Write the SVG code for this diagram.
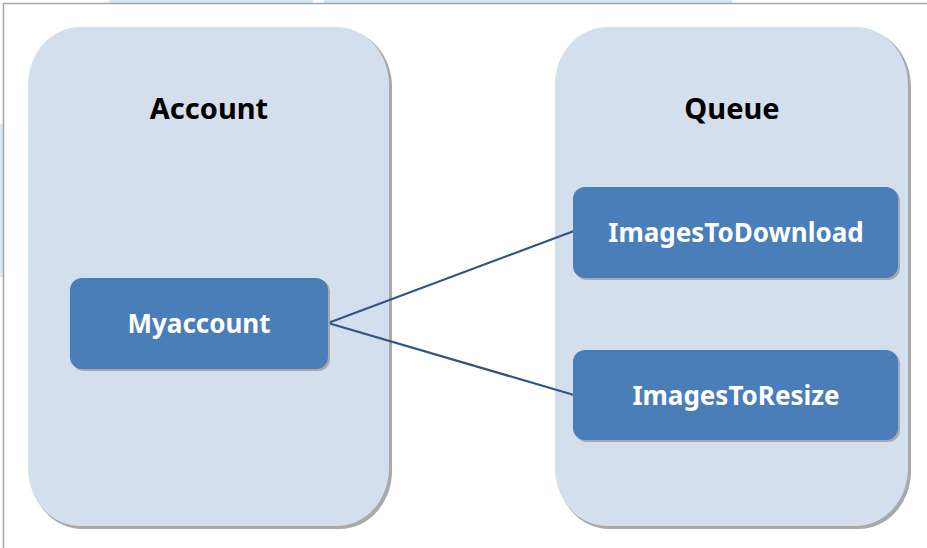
<svg xmlns="http://www.w3.org/2000/svg" width="927" height="548" viewBox="0 0 927 548">
  <style>
    .frame { stroke: #a6a6a6; stroke-width: 1.5; fill: none; }
    .strip { fill: #d6eaf5; }
    .group-shadow { fill: #a9a9a9; }
    .group { fill: #d3dfec; }
    .node-shadow { fill: #a9a9a9; }
    .node { fill: #4a7eb9; }
    .title { font-family: "Noto Sans", "Open Sans", sans-serif; font-weight: bold; font-size: 29px; fill: #000; text-anchor: middle; }
    .label { font-family: "Noto Sans", "Open Sans", sans-serif; font-weight: bold; font-size: 26px; fill: #fff; text-anchor: middle; }
    .edge { stroke: #34557f; stroke-width: 2.2; fill: none; }
  </style>

  <!-- page background and frame -->
  <rect x="0" y="0" width="927" height="548" fill="#fff"/>
  <rect class="strip" x="109" y="0" width="204" height="3"/>
  <rect class="strip" x="324" y="0" width="408" height="3"/>
  <rect class="strip" x="0" y="124" width="3" height="153"/>
  <path class="frame" d="M3.5 548 V3.5 H927"/>

  <!-- container: Account -->
  <g id="account">
    <rect class="group-shadow" x="30" y="29" width="362" height="500" rx="52" ry="58"/>
    <rect class="group" x="28" y="27" width="361" height="499" rx="52" ry="58"/>
    <text class="title" x="209" y="119">Account</text>
  </g>

  <!-- container: Queue -->
  <g id="queue">
    <rect class="group-shadow" x="557" y="29" width="354" height="500" rx="52" ry="58"/>
    <rect class="group" x="555" y="27" width="353" height="499" rx="52" ry="58"/>
    <text class="title" x="732" y="119">Queue</text>
  </g>

  <!-- connectors -->
  <g id="connectors">
    <line class="edge" x1="328" y1="323" x2="574" y2="231"/>
    <line class="edge" x1="328" y1="323" x2="574" y2="395"/>
  </g>

  <g id="myaccount">
    <rect class="node-shadow" x="72" y="280" width="258" height="91" rx="12"/>
    <rect class="node" x="70" y="278" width="258" height="91" rx="12"/>
    <text class="label" x="199" y="333">Myaccount</text>
  </g>

  <g id="images-to-download">
    <rect class="node-shadow" x="575" y="189" width="325" height="91" rx="12"/>
    <rect class="node" x="573" y="187" width="325" height="91" rx="12"/>
    <text class="label" x="736" y="242">ImagesToDownload</text>
  </g>

  <g id="images-to-resize">
    <rect class="node-shadow" x="575" y="352" width="325" height="90" rx="12"/>
    <rect class="node" x="573" y="350" width="325" height="90" rx="12"/>
    <text class="label" x="736" y="405">ImagesToResize</text>
  </g>
</svg>
